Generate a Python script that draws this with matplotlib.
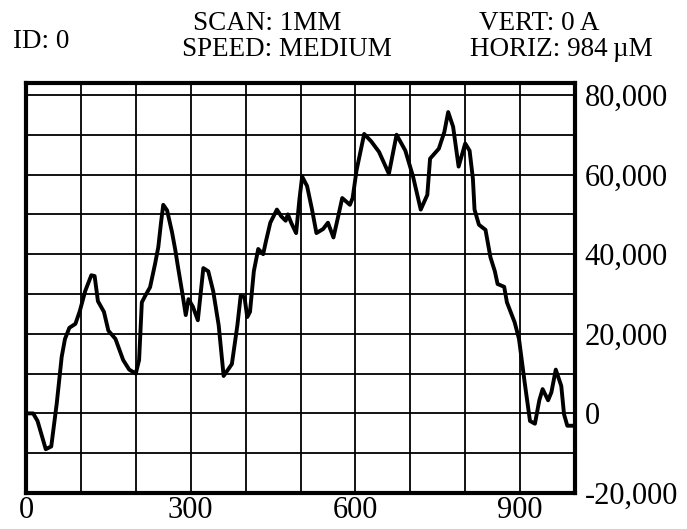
import matplotlib.pyplot as plt
from matplotlib.ticker import FuncFormatter, MultipleLocator

# profile trace: horizontal position (um) and height counts
x_um = [0, 13, 21, 36, 46, 56, 65, 71, 79, 90, 98, 108, 119, 125, 131, 142,
        150, 163, 177, 188, 200, 206, 211, 217, 226, 235, 241, 246, 250, 257,
        266, 272, 276, 285, 291, 296, 304, 313, 323, 332, 341, 351, 360, 375,
        385, 391, 398, 403, 408, 415, 423, 432, 437, 445, 457, 465, 473, 477,
        483, 492, 498, 503, 512, 521, 529, 541, 550, 560, 569, 576, 590, 595,
        602, 616, 629, 643, 661, 675, 691, 705, 719, 731, 736, 752, 762, 769,
        778, 788, 800, 808, 814, 817, 825, 837, 846, 854, 859, 871, 876, 890,
        898, 908, 918, 927, 935, 941, 951, 957, 965, 975, 980, 986, 996]
height = [0, 0, -1900, -9000, -8300, 2500, 14200, 18700, 21500, 22500, 25700,
          30800, 34700, 34500, 28200, 25500, 20800, 18700, 13400, 11000, 10000,
          13400, 27900, 29500, 31700, 37500, 41800, 48000, 52400, 51000, 45500,
          41000, 37500, 30000, 24700, 28700, 26800, 23400, 36500, 35700, 30700,
          22100, 9400, 12400, 22100, 29500, 29200, 24200, 25500, 35700, 41300,
          40000, 43200, 47900, 51200, 49500, 48400, 50000, 47900, 45300, 53700,
          59500, 57100, 51200, 45300, 46300, 47900, 44200, 49700, 54100, 52400,
          54100, 61000, 70200, 68300, 65700, 60200, 70000, 66000, 59500, 51200,
          54900, 64000, 66500, 70700, 75700, 72000, 62000, 67800, 66000, 59000,
          51200, 47400, 46100, 39200, 35700, 32500, 31800, 27900, 22900, 18700,
          8100, -1900, -2600, 3300, 6100, 3300, 5300, 11000, 6900, -200, -3100,
          -3100]

x_ticks = [0, 300, 600, 900]
y_ticks = [-20000, 0, 20000, 40000, 60000, 80000]

plt.rcParams["font.family"] = ["Liberation Serif", "DejaVu Serif"]

fig = plt.figure(figsize=(6.87, 5.29), dpi=100)
ax = fig.add_axes([26 / 687, 36 / 529, 549 / 687, 410 / 529])

ax.plot(x_um, height, color="black", lw=2.8, solid_joinstyle="round",
        solid_capstyle="round", zorder=3)

ax.set_xlim(0, 1000)
ax.set_ylim(-20000, 83000)

ax.set_xticks(x_ticks)
ax.set_yticks(y_ticks)
ax.xaxis.set_minor_locator(MultipleLocator(100))
ax.yaxis.set_minor_locator(MultipleLocator(10000))
ax.yaxis.tick_right()
ax.yaxis.set_major_formatter(FuncFormatter(lambda v, p: f"{int(v):,}"))
ax.tick_params(which="both", length=0)
ax.tick_params(axis="x", labelsize=22, pad=2)
ax.tick_params(axis="y", labelsize=22, pad=7)

ax.grid(True, which="both", color="black", lw=1.3)
ax.set_axisbelow(True)
for s in ax.spines.values():
    s.set_linewidth(3)
    s.set_color("black")

# header block
hdr = 19.5
fig.text(13 / 687, 1 - 41 / 529, "ID: 0", fontsize=hdr, va="center", ha="left")
fig.text(267 / 687, 1 - 24 / 529, "SCAN: 1MM", fontsize=hdr, va="center", ha="center")
fig.text(287 / 687, 1 - 50 / 529, "SPEED: MEDIUM", fontsize=hdr, va="center", ha="center")
fig.text(539 / 687, 1 - 24 / 529, "VERT: 0 A", fontsize=hdr, va="center", ha="center")
fig.text(561 / 687, 1 - 50 / 529, "HORIZ: 984\u2009\u00b5M", fontsize=hdr, va="center", ha="center")

fig.savefig("out.png", dpi=100)
